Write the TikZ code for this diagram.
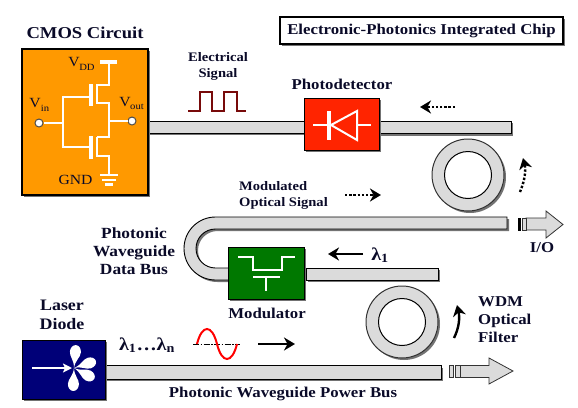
\documentclass[tikz,border=0pt]{standalone}
\usepackage{fontspec}
\setmainfont[FakeStretch=1.12]{Liberation Serif}
\usetikzlibrary{arrows.meta,shadows}
\definecolor{wgfill}{gray}{0.86}
\definecolor{shade}{gray}{0.45}
\definecolor{cmosorange}{RGB}{255,153,0}
\definecolor{detred}{RGB}{255,36,0}
\definecolor{modgreen}{RGB}{0,120,0}
\definecolor{lasernavy}{RGB}{0,0,120}
\definecolor{pulsered}{RGB}{120,10,10}
\definecolor{inkblue}{RGB}{10,10,40}

\begin{document}
\begin{tikzpicture}[
    x=1pt, y=-1pt,
    shadowed/.style={drop shadow={shadow xshift=2pt, shadow yshift=-2pt, opacity=1, fill=shade}},
    label/.style={font=\bfseries\fontsize{15}{18}\selectfont, text=inkblue, align=center, inner sep=0pt},
    smalllabel/.style={font=\bfseries\fontsize{13}{16.5}\selectfont, text=inkblue, align=center, inner sep=0pt},
    circuittext/.style={font=\fontsize{14}{15}\selectfont, text=inkblue, inner sep=0pt},
    block/.style={rectangle, draw=black, line width=1pt, shadowed, inner sep=0pt},
    guide/.style={draw=black, line width=0.9pt, fill=wgfill, shadowed},
    wire/.style={draw=white, line width=2.6pt, line cap=butt, line join=miter},
    pin/.style={circle, draw=black!70, fill=white, line width=1pt, minimum size=8pt, inner sep=0pt},
    ringout/.style={circle, draw=black!80, line width=1pt, fill=wgfill, minimum size=72pt, inner sep=0pt, shadowed},
    ringin/.style={circle, draw=black, line width=1pt, fill=white, minimum size=47pt, inner sep=0pt},
    arrow/.style={-{Stealth[length=11pt,width=13pt,inset=3.5pt]}, line width=2.4pt, black},
    dotarrow/.style={arrow, dash pattern=on 2.4pt off 1.8pt}
]
    \useasboundingbox (0,0) rectangle (578,407);
    % title
    \node[block, line width=1.4pt, fill=white, minimum width=283pt, minimum height=27pt,
        font=\bfseries\fontsize{15}{16}\selectfont, text=inkblue] (title) at (421.5,30.5) {Electronic-Photonics Integrated Chip};

    % waveguides first, blocks go over them
    \path[guide] (148,121) rectangle (306,133);
    \path[guide] (377,121) rectangle (511,133.5);
    \path[guide] (507,217) -- (215.5,217) arc[start angle=-90, end angle=-270, radius=31.5]
        -- (232,280) -- (232,268) -- (215.5,268) arc[start angle=-270, end angle=-90, radius=19.5]
        -- (507,229) -- cycle;
    \path[guide] (306,268) rectangle (438,280);
    \path[guide] (104,365.5) rectangle (441,379);

    % blocks
    \node[block, line width=1.5pt, fill=cmosorange, minimum width=126pt, minimum height=146pt] (cmos) at (85,122) {};
    \node[block, fill=detred, minimum width=75pt, minimum height=52pt] (detector) at (341.5,124) {};
    \node[block, fill=modgreen, minimum width=76pt, minimum height=52pt] (modulator) at (266,273) {};
    \node[block, fill=lasernavy, minimum width=83pt, minimum height=59pt] (laser) at (63.5,369.5) {};

    % rings
    \node[ringout] (ringtop) at (468,175) {};
    \node[ringin] at (ringtop.center) {};
    \node[ringout] (ringlow) at (402,322) {};
    \node[ringin] at (ringlow.center) {};

    % CMOS inverter
    \node[pin] (vin) at (39,123) {};
    \node[pin] (vout) at (132,121) {};
    \draw[wire] (vin) -- (62,123);
    \draw[wire] (90,97) -- (63,97) -- (63,147) -- (90,147);
    \draw[wire, line width=3.4pt] (91,84) -- (91,106);
    \draw[wire, line width=3.4pt] (91,136) -- (91,159);
    \draw[wire] (97,84) -- (97,104);
    \draw[wire] (97,137) -- (97,157);
    \draw[wire] (97,85) -- (109,85) -- (109,62);
    \draw[wire] (97,103) -- (109,103) -- (109,137) -- (97,137);
    \draw[wire] (97,156) -- (109,156) -- (109,175);
    \draw[wire] (109,121) -- (vout);
    \draw[wire, line width=3.6pt] (100,62) -- (117,62);
    \draw[wire] (100,175) -- (118,175);
    \draw[wire] (102,180) -- (116,180);
    \draw[wire] (105,184.5) -- (113,184.5);
    \node[circuittext] at (74,62) {V};
    \node[circuittext, font=\fontsize{9.5}{10}\selectfont] at (87,67) {DD};
    \node[circuittext] at (35,103) {V};
    \node[circuittext, font=\fontsize{9.5}{10}\selectfont] at (45,108) {in};
    \node[circuittext] at (125,102) {V};
    \node[circuittext, font=\fontsize{9.5}{10}\selectfont] at (137,107) {out};
    \node[circuittext] at (75.5,179.5) {GND};

    % diode
    \draw[wire] (313,125) -- (330,125);
    \draw[wire] (357,125) -- (371,125);
    \draw[wire, line width=4pt] (329,111) -- (329,140);
    \draw[wire, line width=2pt] (331,125) -- (357,111) -- (357,140) -- cycle;

    % modulator symbol
    \draw[wire] (238,257) -- (253,257) -- (253,270) -- (282,270) -- (282,257) -- (295,257);
    \draw[wire] (253,277) -- (280,277);
    \draw[wire] (266,277) -- (266,291);

    % laser symbol
    \coordinate (burst) at (74,368);
    \foreach \ang in {85,18,-28,-92} {
        \fill[white, shift={(burst)}, rotate=\ang] (0,0) .. controls (8,-0.5) and (11,-5.5) .. (16,-5.5)
            .. controls (20,-5.5) and (23,-3) .. (23,0) .. controls (23,3) and (20,5.5) .. (16,5.5)
            .. controls (11,5.5) and (8,0.5) .. (0,0) -- cycle;
    }
    \coordinate (beamin) at (32,368);
    \coordinate (beamtip) at (72,368);
    \draw[white, line width=2pt, -{Stealth[length=9pt,width=9pt,inset=2pt]}] (beamin) -- (beamtip);

    % electrical pulse
    \draw[pulsered, line width=1.6pt] (188,111) -- (200,111) -- (200,92) -- (212,92) -- (212,111)
        -- (224,111) -- (224,92) -- (237,92) -- (237,111) -- (246,111);

    % sine on the power bus
    \draw[black, line width=1pt, dash pattern=on 6pt off 1.5pt on 1.5pt off 1.5pt] (193,344) -- (240,344);
    \draw[red, line width=2pt] (197,344) .. controls (202,324) and (212,324) .. (217,344)
        .. controls (222,364) and (232,364) .. (237,344);

    % output arrows
    \path[draw=black!80, line width=0.8pt, fill=wgfill] (526,218) -- (546,218) -- (546,211) -- (563,224.5)
        -- (546,238) -- (546,230) -- (526,230) -- cycle;
    \fill[black] (518,218) rectangle (521,231);
    \path[draw=black!80, line width=0.8pt, fill=wgfill] (522,218) rectangle (526,230);
    \path[draw=black!80, line width=0.8pt, fill=wgfill] (460,365.5) -- (489,365.5) -- (489,358) -- (513,371)
        -- (489,384) -- (489,377.5) -- (460,377.5) -- cycle;
    \path[draw=black!80, line width=0.8pt, fill=wgfill] (449,365.5) rectangle (453,377.5);
    \path[draw=black!80, line width=0.8pt, fill=wgfill] (455,365.5) rectangle (460,377.5);

    % flow arrows
    \coordinate (a1) at (455,107);
    \coordinate (a2) at (420,107);
    \draw[dotarrow] (a1) -- (a2);
    \coordinate (b1) at (520,192);
    \coordinate (b2) at (523,158);
    \draw[dotarrow] (b1) .. controls (525,180) and (526,170) .. (b2);
    \coordinate (c1) at (345,195);
    \coordinate (c2) at (381,195);
    \draw[dotarrow] (c1) -- (c2);
    \coordinate (d1) at (363,254);
    \coordinate (d2) at (328,254);
    \draw[arrow] (d1) -- (d2);
    \coordinate (e1) at (258,344);
    \coordinate (e2) at (295,344);
    \draw[arrow] (e1) -- (e2);
    \coordinate (f1) at (454,338);
    \coordinate (f2) at (457,305);
    \draw[arrow] (f1) .. controls (459,328) and (460,318) .. (f2);

    % labels
    \node[label, font=\bfseries\fontsize{16.6}{18}\selectfont] at (85,33) {CMOS Circuit};
    \node[smalllabel] at (218,66.5) {Electrical\\Signal};
    \node[label] at (342,84) {Photodetector};
    \node[smalllabel, align=left, anchor=west] at (239,195.5) {Modulated\\Optical Signal};
    \node[label, font=\bfseries\fontsize{15.5}{18}\selectfont] at (134,251) {Photonic\\Waveguide\\Data Bus};
    \node[label, font=\bfseries\fontsize{16}{19.5}\selectfont] at (62,315) {Laser\\Diode};
    \node[label] at (267,313) {Modulator};
    \node[label, align=left, anchor=west, font=\bfseries\fontsize{15}{18}\selectfont] at (478,320) {WDM\\Optical\\Filter};
    \node[label] at (542,248) {I/O};
    \node[label] at (283,394) {Photonic Waveguide Power Bus};
    \node[label, font=\bfseries\fontsize{18}{20}\selectfont] at (147,345) {λ\textsubscript{1}…λ\textsubscript{n}};
    \node[label, font=\bfseries\fontsize{18}{20}\selectfont] at (380,255) {λ\textsubscript{1}};
\end{tikzpicture}
\end{document}
